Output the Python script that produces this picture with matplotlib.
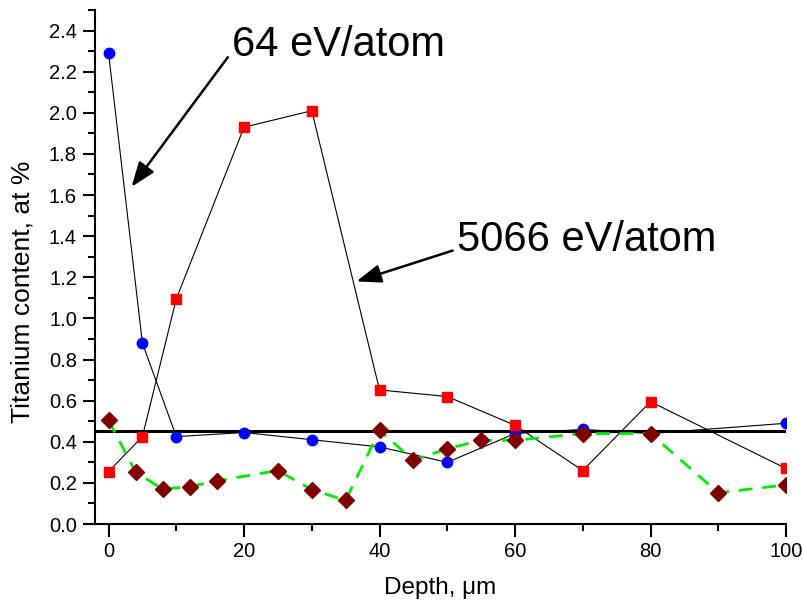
import matplotlib
matplotlib.use("Agg")
import matplotlib.pyplot as plt
from matplotlib.ticker import MultipleLocator, FormatStrFormatter

plt.rcParams['font.family'] = ['Liberation Sans', 'DejaVu Sans']

# data
depth_a = [0, 5, 10, 20, 30, 40, 50, 60, 70, 80, 100]
ti_64 = [2.29, 0.88, 0.425, 0.445, 0.41, 0.375, 0.30, 0.44, 0.46, 0.44, 0.49]
ti_5066 = [0.255, 0.425, 1.095, 1.93, 2.01, 0.652, 0.62, 0.48, 0.26, 0.595, 0.27]
depth_b = [0, 4, 8, 12, 16, 25, 30, 35, 40, 45, 50, 55, 60, 70, 80, 90, 100]
ti_c = [0.505, 0.252, 0.17, 0.182, 0.21, 0.26, 0.167, 0.115, 0.455, 0.31, 0.366,
        0.407, 0.407, 0.44, 0.44, 0.152, 0.19]
ref_level = 0.45
xlim = (-2, 100)
ylim = (0, 2.5)

fig = plt.figure(figsize=(8.04, 6.04), dpi=100)
ax = fig.add_axes([95/804, 80/604, 691/804, 514/604])

ax.plot(xlim, [ref_level, ref_level], color='black', lw=2.2, zorder=1)
ax.plot(depth_a, ti_64, color='black', lw=0.8, zorder=2)
ax.plot(depth_a, ti_5066, color='black', lw=0.8, zorder=2)
ax.plot(depth_a, ti_64, ls='none', marker='o', ms=7.5, mfc='#0000ff', mec='#0000ff', zorder=3)
ax.plot(depth_a, ti_5066, ls='none', marker='s', ms=7, mfc='#ff0000', mec='#ff0000', zorder=3)
ax.plot(depth_b, ti_c, color='#00ee00', lw=2, dashes=(5, 3.5), zorder=4)
ax.plot(depth_b, ti_c, ls='none', marker='D', ms=8, mfc='#800000', mec='#800000', zorder=5)

ax.set_xlim(*xlim)
ax.set_ylim(*ylim)
ax.xaxis.set_major_locator(MultipleLocator(20))
ax.xaxis.set_minor_locator(MultipleLocator(10))
ax.yaxis.set_major_locator(MultipleLocator(0.2))
ax.yaxis.set_minor_locator(MultipleLocator(0.1))
ax.yaxis.set_major_formatter(FormatStrFormatter('%.1f'))
for s in ['top', 'right']:
    ax.spines[s].set_visible(False)
for s in ['left', 'bottom']:
    ax.spines[s].set_linewidth(1.5)
ax.tick_params(which='major', direction='out', length=9, width=1.5, labelsize=14.5, pad=4)
ax.tick_params(which='minor', direction='out', length=5, width=1.5)

ax.set_xlabel('Depth, μm', fontsize=17.5)
ax.xaxis.set_label_coords(0.5, -0.103)
ax.set_ylabel('Titanium content, at %', fontsize=19)
ax.yaxis.set_label_coords(-0.087, 0.451)

ax.text(18.2, 2.33, '64 eV/atom', fontsize=30, ha='left', va='center')
ax.text(51.4, 1.38, '5066 eV/atom', fontsize=30, ha='left', va='center')
arrow_style = dict(arrowstyle='-|>,head_length=0.75,head_width=0.28', mutation_scale=20,
                   color='black', lw=1.8, shrinkA=0, shrinkB=0)
ax.annotate('', xy=(3.4, 1.64), xytext=(17.6, 2.27), arrowprops=arrow_style)
ax.annotate('', xy=(36.6, 1.18), xytext=(50.8, 1.33), arrowprops=arrow_style)

fig.savefig('out.png', dpi=100)
